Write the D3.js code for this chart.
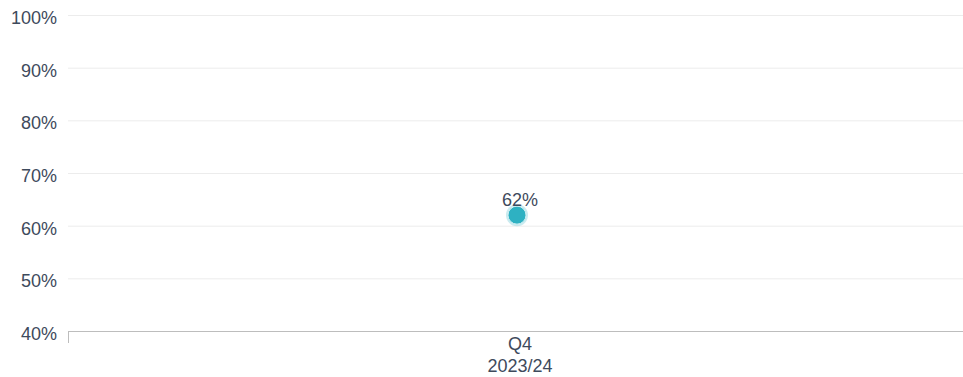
<!DOCTYPE html>
<html><head><meta charset="utf-8">
<script src="https://cdn.jsdelivr.net/npm/d3@7"></script>
<style>body{margin:0;background:#fff;} text{font-family:"Liberation Sans",Arial,sans-serif;}</style>
</head><body>
<svg id="c" width="963" height="377"></svg>
<script>
const categories = [["Q4","2023/24"]];
const values = [62];
const yTicks = [40,50,60,70,80,90,100];

const svg = d3.select("#c");
const m = {left:68, right:972, top:15, bottom:331};
const x = d3.scaleBand().domain(categories.map(d=>d.join(" "))).range([m.left, m.right]);
const y = d3.scaleLinear().domain([40,100]).range([m.bottom, m.top]);

// gridlines
svg.append("g").selectAll("line").data(yTicks.filter(t=>t>40)).join("line")
  .attr("x1", m.left).attr("x2", 963).attr("y1", d=>y(d)+0.5).attr("y2", d=>y(d)+0.5)
  .attr("stroke","#ececec").attr("stroke-width",1);

// y labels
svg.append("g").selectAll("text").data(yTicks).join("text")
  .attr("x", 57).attr("y", d=>y(d)+9).attr("text-anchor","end")
  .attr("font-size",18).attr("fill","#3e4a5c").text(d=>d+"%");

// x axis line
svg.append("line").attr("x1",m.left).attr("x2",963).attr("y1",m.bottom+0.5).attr("y2",m.bottom+0.5)
  .attr("stroke","#bdbdbd").attr("stroke-width",1.2);
svg.append("line").attr("x1",m.left+0.5).attr("x2",m.left+0.5).attr("y1",m.bottom).attr("y2",m.bottom+12)
  .attr("stroke","#bdbdbd").attr("stroke-width",1);

// x labels
const xl = svg.append("g").selectAll("text").data(categories).join("text")
  .attr("text-anchor","middle").attr("font-size",18).attr("fill","#3e4a5c");
xl.each(function(d){
  const t = d3.select(this);
  const cx = x(d.join(" ")) + x.bandwidth()/2;
  d.forEach((line,i)=>t.append("tspan").attr("x",cx).attr("y",350+i*22).text(line));
});

// points
const pts = svg.append("g").selectAll("g").data(values).join("g")
  .attr("transform",(d,i)=>`translate(${x(categories[i].join(" "))+x.bandwidth()/2 - 3},${y(d)})`);
pts.append("circle").attr("r",11).attr("fill","#2eb1c2").attr("opacity",0.25);
pts.append("circle").attr("r",9).attr("fill","#2eb1c2").attr("stroke","#cdeef2").attr("stroke-width",1);
pts.append("text").attr("x",3).attr("y",-9).attr("text-anchor","middle")
  .attr("font-size",18).attr("fill","#3e4a5c").text(d=>d+"%");
</script>
</body></html>
